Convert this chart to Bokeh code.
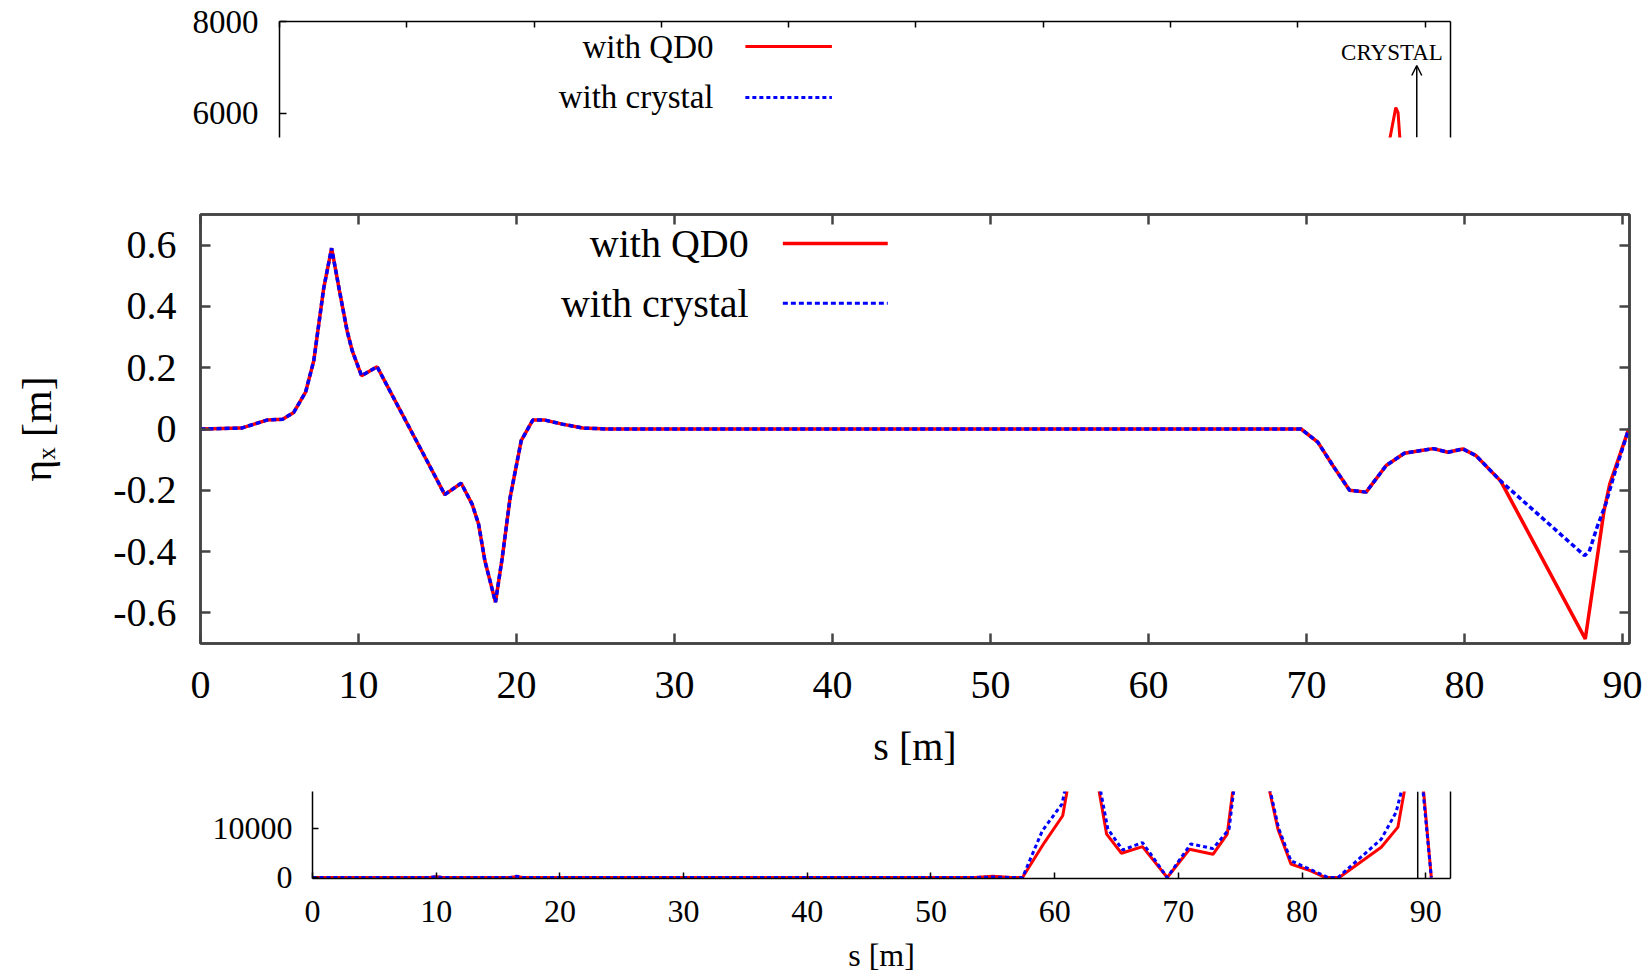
from bokeh.plotting import figure
from bokeh.models import Range1d, LinearAxis, FixedTicker, Label, Span, Arrow, OpenHead
from bokeh.embed import file_html
from bokeh.resources import INLINE

FONT = "Liberation Serif"
RED = "#ff0000"
BLUE = "#0000ff"

# ---------------- data ----------------
x_ticks = [0, 10, 20, 30, 40, 50, 60, 70, 80, 90]
crystal_s = 89.35

# main panel: horizontal dispersion eta_x [m]
s_common = [0, 2.6, 4.2, 5.2, 5.9, 6.65, 7.17, 7.8, 8.3, 8.8, 9.28, 9.6, 10.19, 11.18,
            12.34, 13.4, 14.45, 15.46, 16.5, 17.19, 17.6, 18.0, 18.67, 19.1, 19.6, 20.3,
            21.03, 21.8, 22.9, 24.2, 25.8, 69.66, 70.72, 71.67, 72.73, 73.78, 75.05,
            76.2, 77.26, 78.04, 78.95, 79.9, 80.74, 82.3]
eta_common = [0, 0.003, 0.029, 0.032, 0.054, 0.12, 0.223, 0.46, 0.59, 0.45, 0.32, 0.256,
              0.174, 0.203, 0.09, -0.013, -0.115, -0.214, -0.177, -0.245, -0.31, -0.43,
              -0.565, -0.42, -0.223, -0.038, 0.029, 0.029, 0.016, 0.003, 0.0, 0.0, -0.043,
              -0.119, -0.2, -0.206, -0.119, -0.079, -0.07, -0.064, -0.076, -0.065, -0.087,
              -0.17]
s_tail_qd0 = [87.65, 88.35, 88.84, 89.2, 90.4]
eta_tail_qd0 = [-0.685, -0.44, -0.266, -0.18, 0.0]
s_tail_crystal = [87.6, 87.9, 88.4, 88.95, 89.5, 90.4]
eta_tail_crystal = [-0.413, -0.40, -0.32, -0.244, -0.146, 0.0]

eta_ticks = [-0.6, -0.4, -0.2, 0, 0.2, 0.4, 0.6]
eta_tick_labels = ["-0.6", "-0.4", "-0.2", "0", "0.2", "0.4", "0.6"]

# top fragment (upper part of another panel)
s_top_qd0 = [86.9, 87.7, 87.88, 88.15]
v_top_qd0 = [4950, 6120, 6010, 4950]
top_ticks = [6000, 8000]

# bottom fragment (lower part of another panel)
s_low = [0, 9.5, 10.0, 10.5, 16.0, 16.5, 17.0, 53.5, 55.0, 56.5, 57.4]
v_low_qd0 = [0, 0, 150, 0, 0, 200, 0, 0, 250, 0, 0]
v_low_crystal = [0, 0, 200, 0, 0, 250, 0, 0, 100, 0, 0]
s_bot_qd0 = [59.17, 60.65, 62.3, 64.2, 65.4, 67.1, 69.1, 70.9, 72.8, 73.95, 75.5, 78.05,
             79.1, 80.7, 81.9, 83.0, 86.4, 87.75, 89.3, 90.45]
v_bot_qd0 = [7070, 12500, 36000, 8770, 4900, 6260, 0, 5710, 4690, 8770, 39000, 9790,
             2720, 1360, 0, 0, 6120, 10200, 32000, 0]
s_bot_crystal = [59.0, 60.6, 62.3, 64.3, 65.5, 67.1, 69.1, 71.0, 72.8, 74.1, 75.5, 78.1,
                 79.1, 82.1, 82.9, 86.4, 87.6, 89.3, 90.45]
v_bot_crystal = [9450, 14900, 36000, 9790, 5580, 7070, 0, 6800, 5850, 9790, 39000, 10000,
                 3400, 0, 0, 7750, 13200, 30000, 0]
bot_ticks = [0, 10000]

legend_names = ["with QD0", "with crystal"]

# --------------- helpers ---------------
def style_axis(ax, color="#000000", width=1.5, font_size="33px", tick_in=6, standoff=20):
    ax.axis_line_color = color
    ax.axis_line_width = width
    ax.major_tick_line_color = color
    ax.major_tick_line_width = width
    ax.major_tick_in = tick_in
    ax.major_tick_out = 0
    ax.minor_tick_line_color = None
    ax.major_label_text_font = FONT
    ax.major_label_text_font_size = font_size
    ax.major_label_text_color = "#000000"
    ax.major_label_standoff = standoff
    ax.axis_label_text_font = FONT
    ax.axis_label_text_font_style = "normal"
    ax.axis_label_text_color = "#000000"


def mirror_axis(p, place, ticks, color, width, tick_in):
    ax = LinearAxis(ticker=FixedTicker(ticks=ticks),
                    major_label_overrides={t: "" for t in ticks})
    style_axis(ax, color=color, width=width, font_size="1px", tick_in=tick_in, standoff=0)
    p.add_layout(ax, place)
    return ax


def text_label(p, x, y, text, size, align="right"):
    p.add_layout(Label(x=x, y=y, text=text, text_align=align, text_baseline="middle",
                       text_font=FONT, text_font_size=size, text_color="#000000"))


# ---------------- top fragment ----------------
top_y0, top_y1 = 5467, 8000
pt = figure(width=1650, height=175, x_range=Range1d(0, 92),
            y_range=Range1d(top_y0, top_y1), output_backend="svg", toolbar_location=None,
            x_axis_location=None, y_axis_location=None,
            min_border_left=279, min_border_right=200, min_border_top=21,
            min_border_bottom=38)
pt.outline_line_color = None
pt.grid.visible = False
lax = LinearAxis(ticker=FixedTicker(ticks=top_ticks))
style_axis(lax, font_size="33px", tick_in=7, standoff=21)
pt.add_layout(lax, "left")
mirror_axis(pt, "above", x_ticks, "#000000", 1.5, 6)
mirror_axis(pt, "right", [], "#000000", 1.5, 0)

pt.line(s_top_qd0, v_top_qd0, line_color=RED, line_width=3)

# legend (text left, sample right)
text_label(pt, 34.1, 7454, legend_names[0], "33px")
text_label(pt, 34.1, 6341, legend_names[1], "33px")
pt.segment(x0=[36.6], y0=[7454], x1=[43.4], y1=[7454], line_color=RED, line_width=3)
pt.segment(x0=[36.6], y0=[6341], x1=[43.4], y1=[6341], line_color=BLUE, line_width=3,
           line_dash="4 3")

pt.add_layout(Arrow(end=OpenHead(size=10, line_width=1.5, line_color="#000000"),
                    x_start=crystal_s, y_start=top_y0, x_end=crystal_s, y_end=7040,
                    line_width=1.5, line_color="#000000"))
text_label(pt, 87.4, 7323, "CRYSTAL", "23px", align="center")

# ---------------- main panel ----------------
FR = "#444444"
pm = figure(width=1650, height=610, x_range=Range1d(0, 90.45), y_range=Range1d(-0.7, 0.7),
            output_backend="svg", toolbar_location=None,
            x_axis_location=None, y_axis_location=None,
            min_border_left=200, min_border_right=21, min_border_top=39,
            min_border_bottom=142)
pm.grid.visible = False
pm.outline_line_color = FR
pm.outline_line_width = 2.5

bax = LinearAxis(ticker=FixedTicker(ticks=x_ticks), axis_label="s [m]")
style_axis(bax, color=FR, width=2.5, font_size="40px", tick_in=10, standoff=28)
bax.axis_label_text_font_size = "40px"
bax.axis_label_standoff = 23
pm.add_layout(bax, "below")

yax = LinearAxis(ticker=FixedTicker(ticks=eta_ticks), axis_label="ηₓ [m]",
                 major_label_overrides=dict(zip(eta_ticks, eta_tick_labels)))
style_axis(yax, color=FR, width=2.5, font_size="40px", tick_in=10, standoff=24)
yax.axis_label_text_font_size = "42px"
yax.axis_label_standoff = 50
pm.add_layout(yax, "left")

mirror_axis(pm, "above", x_ticks, FR, 2.5, 10)
mirror_axis(pm, "right", eta_ticks, FR, 2.5, 10)

pm.line(s_common + s_tail_qd0, eta_common + eta_tail_qd0, line_color=RED, line_width=3.5)
pm.line(s_common + s_tail_crystal, eta_common + eta_tail_crystal, line_color=BLUE,
        line_width=3.5, line_dash="5 3")

text_label(pm, 34.7, 0.605, legend_names[0], "40px")
text_label(pm, 34.7, 0.41, legend_names[1], "40px")
pm.segment(x0=[36.86], y0=[0.605], x1=[43.5], y1=[0.605], line_color=RED, line_width=3.5)
pm.segment(x0=[36.86], y0=[0.41], x1=[43.5], y1=[0.41], line_color=BLUE, line_width=3,
           line_dash="5 3")

# ---------------- bottom fragment ----------------
pb = figure(width=1650, height=191, x_range=Range1d(0, 92), y_range=Range1d(-200, 17400),
            output_backend="svg", toolbar_location=None,
            x_axis_location=None, y_axis_location=None,
            min_border_left=312, min_border_right=200, min_border_top=6,
            min_border_bottom=98)
pb.grid.visible = False
pb.outline_line_color = None

bbax = LinearAxis(ticker=FixedTicker(ticks=x_ticks), axis_label="s [m]")
style_axis(bbax, font_size="32px", tick_in=6, standoff=22)
bbax.axis_label_text_font_size = "32px"
bbax.axis_label_standoff = 12
pb.add_layout(bbax, "below")

blax = LinearAxis(ticker=FixedTicker(ticks=bot_ticks))
style_axis(blax, font_size="32px", tick_in=6, standoff=20)
pb.add_layout(blax, "left")
mirror_axis(pb, "right", [], "#000000", 1.5, 0)

pb.add_layout(Span(location=crystal_s, dimension="height", line_color="#000000",
                   line_width=1.5))
pb.line(s_low + s_bot_qd0, v_low_qd0 + v_bot_qd0, line_color=RED, line_width=3)
pb.line(s_low + s_bot_crystal, v_low_crystal + v_bot_crystal, line_color=BLUE,
        line_width=3, line_dash="4 3")

open("out.html", "w").write(file_html([pt, pm, pb], INLINE, "eta_x"))
